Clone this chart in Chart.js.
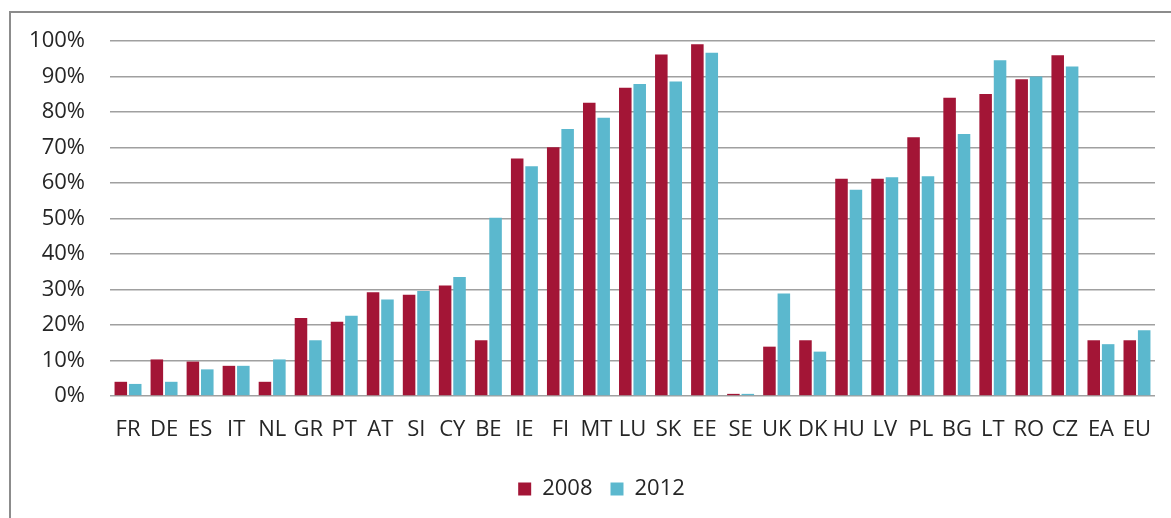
<!DOCTYPE html>
<html>
<head>
<meta charset="utf-8">
<script src="https://cdn.jsdelivr.net/npm/chart.js@4.4.1/dist/chart.umd.min.js"></script>
<style>
  html, body { margin: 0; padding: 0; background: #fff; overflow: hidden; }
  #wrap { position: absolute; left: 0; top: 0; width: 1171px; height: 518px; }
  #frame { position: absolute; left: 9px; top: 11px; width: 1180px; height: 540px; border: 2px solid #8c8c8c; pointer-events: none; }
</style>
</head>
<body>
<div id="wrap"><canvas id="c" width="1171" height="518"></canvas></div>
<div id="frame"></div>
<script>
  // data (%)
  const countries = ["FR","DE","ES","IT","NL","GR","PT","AT","SI","CY","BE","IE","FI","MT","LU","SK","EE","SE","UK","DK","HU","LV","PL","BG","LT","RO","CZ","EA","EU"];
  const y2008 = [4.0,10.3,9.7,8.5,4.0,22.0,20.9,29.2,28.5,31.1,15.7,66.9,70.1,82.6,86.8,96.2,99.1,0.6,13.9,15.7,61.2,61.2,72.9,84.0,85.1,89.2,96.0,15.7,15.7];
  const y2012 = [3.4,4.0,7.5,8.5,10.3,15.7,22.6,27.2,29.6,33.5,50.2,64.7,75.2,78.4,87.9,88.6,96.7,0.6,28.9,12.5,58.1,61.6,61.9,73.8,94.6,90.0,92.8,14.6,18.5];
  const seriesNames = ["2008", "2012"];

  const RED = "#A31536", BLUE = "#5BB8CE", TXT = "#262626", GRID = "#a0a0a0";
  const FONT = { family: "'Open Sans', sans-serif", size: 22 };

  // legend sits a bit right of centre in the reference (centred on the plot area)
  const shiftLegend = {
    id: "shiftLegend",
    afterLayout(chart) {
      const lg = chart.legend;
      if (lg) { lg.left += 24; lg.right += 24; }
    },
  };

  new Chart(document.getElementById("c").getContext("2d"), {
    type: "bar",
    data: {
      labels: countries,
      datasets: [
        { label: seriesNames[0], data: y2008, backgroundColor: RED },
        { label: seriesNames[1], data: y2012, backgroundColor: BLUE },
      ],
    },
    plugins: [shiftLegend],
    options: {
      responsive: false, animation: false,
      datasets: { bar: { categoryPercentage: 0.8, barPercentage: 0.87 } },
      layout: { padding: { left: 0, right: 16, top: 41, bottom: 8 } },
      plugins: {
        tooltip: { enabled: false },
        legend: {
          position: "bottom",
          labels: { boxWidth: 13, boxHeight: 13, padding: 18, color: TXT, font: FONT },
        },
      },
      scales: {
        x: {
          grid: { display: false }, border: { display: false },
          ticks: { color: TXT, font: FONT, padding: 13, maxRotation: 0, autoSkip: false },
          afterFit: s => { s.height = 64; },
        },
        y: {
          min: 0, max: 100,
          grid: { color: GRID, lineWidth: 1.6, drawTicks: false },
          border: { display: false },
          ticks: { stepSize: 10, color: TXT, font: FONT, padding: 25, callback: v => v + "%" },
          afterFit: s => { s.width = 110; },
        },
      },
    },
  });
</script>
</body>
</html>
